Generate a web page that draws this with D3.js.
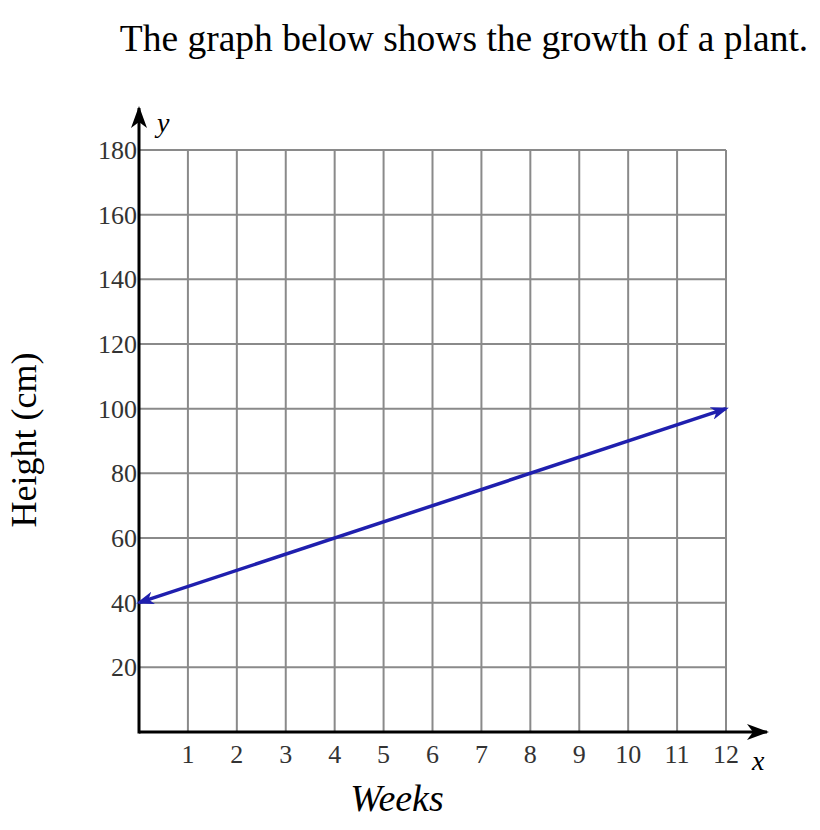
<!DOCTYPE html>
<html>
<head>
<meta charset="utf-8">
<script src="https://cdn.jsdelivr.net/npm/d3@7"></script>
<style>
  body { margin: 0; background: #fff; }
  text { font-family: "Liberation Serif", "Times New Roman", serif; }
</style>
</head>
<body>
<div id="chart"></div>
<script>
// Data
var weeks = [0, 1, 2, 3, 4, 5, 6, 7, 8, 9, 10, 11, 12];
var heightTicks = [20, 40, 60, 80, 100, 120, 140, 160, 180];
var growthWeeks = [0, 12];
var growthHeights = [40, 100];

function drawGrowthChart() {
    var container = d3.select('#chart');
    container.selectAll('*').remove();

    var width = 820,
        height = 830,
        margin = {top: 150, right: 94, bottom: 98, left: 139};

    var svg = container.append("svg")
        .attr("width", width)
        .attr("height", height);

    var xScale = d3.scaleLinear()
        .domain([0, 12])
        .range([margin.left, width - margin.right]);

    var yScale = d3.scaleLinear()
        .domain([0, 180])
        .range([height - margin.bottom, margin.top]);

    // Title
    svg.append("text")
        .attr("x", 464)
        .attr("y", 51)
        .attr("text-anchor", "middle")
        .style("font-size", "37.5px")
        .text("The graph below shows the growth of a plant.");

    var defs = svg.append("defs");
    defs.append("marker")
        .attr("id", "axisArrow")
        .attr("viewBox", "0 0 22 16")
        .attr("refX", 20)
        .attr("refY", 8)
        .attr("markerWidth", 22)
        .attr("markerHeight", 16)
        .attr("markerUnits", "userSpaceOnUse")
        .attr("orient", "auto")
        .append("path")
        .attr("d", "M0,0 L22,8 L0,16 L6,8 Z")
        .attr("fill", "#000");

    defs.append("marker")
        .attr("id", "lineArrow")
        .attr("viewBox", "0 0 18 13")
        .attr("refX", 15)
        .attr("refY", 6.5)
        .attr("markerWidth", 18)
        .attr("markerHeight", 13)
        .attr("markerUnits", "userSpaceOnUse")
        .attr("orient", "auto-start-reverse")
        .append("path")
        .attr("d", "M0,0 L18,6.5 L0,13 L5,6.5 Z")
        .attr("fill", "#1f1fae");

    // Grid
    var grid = svg.append("g")
        .attr("stroke", "#8a8a8a")
        .attr("stroke-width", 2);

    grid.selectAll(".vgrid")
        .data(weeks.slice(1))
        .enter().append("line")
        .attr("x1", d => xScale(d))
        .attr("x2", d => xScale(d))
        .attr("y1", yScale(0))
        .attr("y2", yScale(180));

    grid.selectAll(".hgrid")
        .data(heightTicks)
        .enter().append("line")
        .attr("x1", xScale(0))
        .attr("x2", xScale(12))
        .attr("y1", d => yScale(d))
        .attr("y2", d => yScale(d));

    // Axes with arrows
    svg.append("line")
        .attr("x1", xScale(0))
        .attr("x2", xScale(12) + 41)
        .attr("y1", yScale(0))
        .attr("y2", yScale(0))
        .attr("stroke", "#000")
        .attr("stroke-width", 3)
        .attr("marker-end", "url(#axisArrow)");

    svg.append("line")
        .attr("x1", xScale(0))
        .attr("x2", xScale(0))
        .attr("y1", yScale(0) + 1.5)
        .attr("y2", yScale(180) - 42)
        .attr("stroke", "#000")
        .attr("stroke-width", 3)
        .attr("marker-end", "url(#axisArrow)");

    // Tick labels
    svg.selectAll(".xlabel")
        .data(weeks.slice(1))
        .enter().append("text")
        .attr("x", d => xScale(d))
        .attr("y", 763)
        .attr("text-anchor", "middle")
        .attr("fill", "#333")
        .style("font-size", "26px")
        .text(d => d);

    svg.selectAll(".ylabel")
        .data(heightTicks)
        .enter().append("text")
        .attr("x", xScale(0) - 2)
        .attr("y", d => yScale(d) + 9)
        .attr("text-anchor", "end")
        .attr("fill", "#333")
        .style("font-size", "26px")
        .text(d => d);

    // Axis letters
    svg.append("text")
        .attr("x", 157)
        .attr("y", 132)
        .style("font-size", "28px")
        .style("font-style", "italic")
        .text("y");

    svg.append("text")
        .attr("x", 752)
        .attr("y", 770)
        .style("font-size", "28px")
        .style("font-style", "italic")
        .text("x");

    // Axis titles
    svg.append("text")
        .attr("x", 397)
        .attr("y", 811)
        .attr("text-anchor", "middle")
        .style("font-size", "38px")
        .style("font-style", "italic")
        .text("Weeks");

    svg.append("text")
        .attr("transform", "translate(36,440) rotate(-90)")
        .attr("text-anchor", "middle")
        .style("font-size", "36px")
        .text("Height (cm)");

    // Growth line
    var line = d3.line()
        .x(d => xScale(d[0]))
        .y(d => yScale(d[1]));

    svg.append("path")
        .datum(d3.zip(growthWeeks, growthHeights))
        .attr("d", line)
        .attr("fill", "none")
        .attr("stroke", "#1f1fae")
        .attr("stroke-width", 3.5)
        .attr("marker-start", "url(#lineArrow)")
        .attr("marker-end", "url(#lineArrow)");
}

drawGrowthChart();
</script>
</body>
</html>
